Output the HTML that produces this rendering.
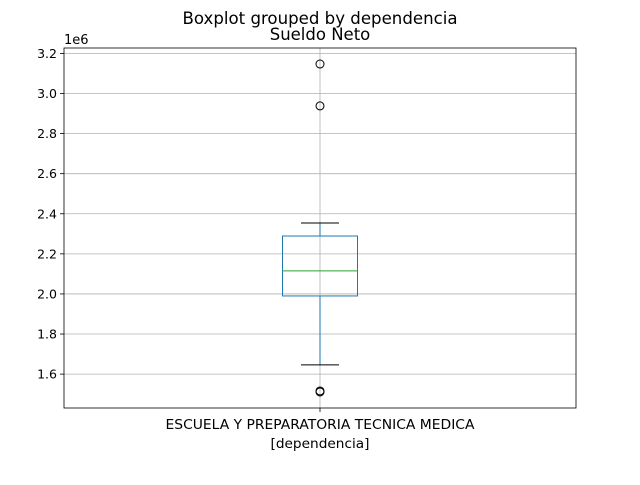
<!DOCTYPE html>
<html><head><meta charset="utf-8"><style>
body{margin:0;background:#fff;font-family:"Liberation Sans","DejaVu Sans",sans-serif}
</style></head><body>
<svg width="640" height="480" xmlns="http://www.w3.org/2000/svg" font-family="DejaVu Sans, Liberation Sans, sans-serif">
<rect width="640" height="480" fill="#fff"/>
<text x="320" y="24" text-anchor="middle" font-size="16.5" textLength="275" lengthAdjust="spacingAndGlyphs">Boxplot grouped by dependencia</text>
<text x="320" y="40" text-anchor="middle" font-size="16.5">Sueldo Neto</text>
<g id="grid"></g>
<g id="marks"></g>
<rect x="64" y="48" width="512" height="360" fill="none" stroke="#000" stroke-width="0.8"/>
<g id="axes"></g>
<text x="64" y="44" font-size="13">1e6</text>
<text x="320" y="429" text-anchor="middle" font-size="13.5" textLength="309" lengthAdjust="spacingAndGlyphs">ESCUELA Y PREPARATORIA TECNICA MEDICA</text>
<text x="320" y="448" text-anchor="middle" font-size="13.5" textLength="99" lengthAdjust="spacingAndGlyphs">[dependencia]</text>
</svg>
<script>
const categories=["ESCUELA Y PREPARATORIA TECNICA MEDICA"];
const q1=[1.990];
const q3=[2.289];
const medians=[2.115];
const whiskLow=[1.646];
const whiskHigh=[2.354];
const outliers=[[3.147,2.938,1.516,1.511]];
const yTicks=[1.6,1.8,2.0,2.2,2.4,2.6,2.8,3.0,3.2];
const yMin=1.431,yMax=3.227;
const L=64,R=576,T=48,B=408;
const ns="http://www.w3.org/2000/svg";
function y(v){return B-(v-yMin)/(yMax-yMin)*(B-T);}
function x(i){return L+(i+0.5)*(R-L)/categories.length;}
function mk(tag,attrs,parent){const e=document.createElementNS(ns,tag);for(const k in attrs)e.setAttribute(k,attrs[k]);document.getElementById(parent).appendChild(e);return e;}
categories.forEach((c,i)=>{const g=mk('line',{x1:x(i),x2:x(i),y1:T,y2:B,stroke:'#b0b0b0','stroke-width':0.8},'grid');


const t=mk('line',{x1:x(i),x2:x(i),y1:B,y2:B+4,stroke:'#000','stroke-width':0.8},'axes');

});
yTicks.forEach(v=>{const g=mk('line',{x1:L,x2:R,y1:y(v),y2:y(v),stroke:'#b0b0b0','stroke-width':0.8},'grid');


const t=mk('line',{x1:L-4,x2:L,y1:y(v),y2:y(v),stroke:'#000','stroke-width':0.8},'axes');


const l=mk('text',{x:L-7,y:y(v)+4.5,'text-anchor':'end','font-size':12.5},'axes');l.textContent=v.toFixed(1);

});
categories.forEach((c,i)=>{const cx=x(i),hw=37.5,cw=19;
const blue='#1f77b4';
const w1=mk('line',{x1:cx,x2:cx,y1:y(q3[i]),y2:y(whiskHigh[i]),stroke:blue,'stroke-width':1},'marks');


const w2=mk('line',{x1:cx,x2:cx,y1:y(q1[i]),y2:y(whiskLow[i]),stroke:blue,'stroke-width':1},'marks');


const c1=mk('line',{x1:cx-cw,x2:cx+cw,y1:y(whiskHigh[i]),y2:y(whiskHigh[i]),stroke:'#000','stroke-width':1},'marks');


const c2=mk('line',{x1:cx-cw,x2:cx+cw,y1:y(whiskLow[i]),y2:y(whiskLow[i]),stroke:'#000','stroke-width':1},'marks');


const b=mk('rect',{x:cx-hw,y:y(q3[i]),width:2*hw,height:y(q1[i])-y(q3[i]),fill:'none',stroke:blue,'stroke-width':1},'marks');


const m=mk('line',{x1:cx-hw,x2:cx+hw,y1:y(medians[i]),y2:y(medians[i]),stroke:'#2ca02c','stroke-width':1},'marks');


outliers[i].forEach(v=>{const o=mk('circle',{cx:cx,cy:y(v),r:4,fill:'none',stroke:'#000','stroke-width':1},'marks');

});
});
</script>
</body></html>
